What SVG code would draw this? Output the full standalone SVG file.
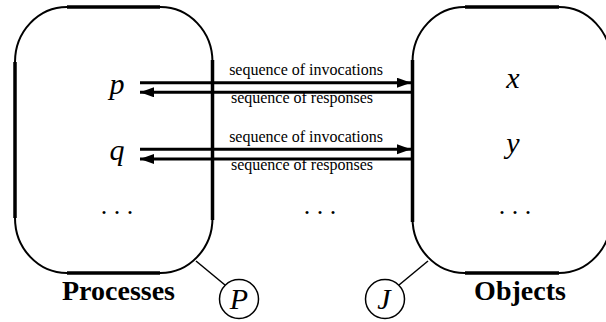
<svg xmlns="http://www.w3.org/2000/svg" width="606" height="322" viewBox="0 0 606 322">
  <style>
    .box { fill: none; stroke: #000; stroke-width: 2; }
    .edge { stroke: #000; stroke-width: 3.5; stroke-linecap: butt; }
    .flow { stroke: #000; stroke-width: 3; fill: none; }
    .thin { stroke: #000; stroke-width: 1.5; fill: none; }
    text { font-family: 'Liberation Serif', 'Times New Roman', Times, serif; fill: #000; text-anchor: middle; }
    .var { font-style: italic; font-size: 30px; }
    .lbl { font-size: 16px; }
    .title { font-weight: bold; font-size: 28px; }
    .dots { font-size: 26px; }
  </style>
  <defs>
    <marker id="head" markerUnits="userSpaceOnUse" markerWidth="16" markerHeight="12" refX="14" refY="5" orient="auto">
      <path d="M0,0 L14,5 L0,10 Z" fill="#000"/>
    </marker>
  </defs>

  <g id="processes">
    <rect class="box" x="15" y="7" width="197.5" height="266" rx="52" ry="55"/>
    <line class="edge" x1="67" y1="7" x2="160" y2="7"/>
    <line class="edge" x1="67" y1="273" x2="160" y2="273"/>
    <line class="edge" x1="15" y1="62" x2="15" y2="218"/>
    <line class="edge" x1="212.5" y1="60" x2="212.5" y2="220"/>
    <text class="var" x="117" y="94">p</text>
    <text class="var" x="117" y="160">q</text>
    <text class="dots" x="117" y="214">. . .</text>
    <text class="title" x="118.5" y="300">Processes</text>
  </g>

  <g id="objects">
    <rect class="box" x="412.5" y="7" width="198.5" height="266" rx="52" ry="55"/>
    <line class="edge" x1="465" y1="7" x2="559" y2="7"/>
    <line class="edge" x1="465" y1="273" x2="559" y2="273"/>
    <line class="edge" x1="412.5" y1="60" x2="412.5" y2="222"/>
    <text class="var" x="513" y="88">x</text>
    <text class="var" x="513" y="153">y</text>
    <text class="dots" x="515" y="214">. . .</text>
    <text class="title" x="520" y="300">Objects</text>
  </g>

  <g id="middle">
    <text class="dots" x="320" y="214">. . .</text>
  </g>

  <g id="proc-label">
    <circle class="thin" cx="239" cy="299" r="19.5"/>
    <text class="var" x="239" y="309">P</text>
  </g>

  <g id="obj-label">
    <circle class="thin" cx="385" cy="299" r="19.5"/>
    <text class="var" x="384" y="309">J</text>
  </g>

  <g id="connectors">
    <line class="flow" x1="140" y1="82.7" x2="411" y2="82.7" marker-end="url(#head)"/>
    <line class="flow" x1="411" y1="92.3" x2="140" y2="92.3" marker-end="url(#head)"/>
    <line class="flow" x1="140" y1="149.3" x2="411" y2="149.3" marker-end="url(#head)"/>
    <line class="flow" x1="411" y1="159" x2="140" y2="159" marker-end="url(#head)"/>
    <line class="thin" x1="196" y1="261" x2="225" y2="285"/>
    <line class="thin" x1="428" y1="261" x2="399" y2="285"/>
    <text class="lbl" x="306" y="75">sequence of invocations</text>
    <text class="lbl" x="302" y="103">sequence of responses</text>
    <text class="lbl" x="306" y="142">sequence of invocations</text>
    <text class="lbl" x="302" y="170">sequence of responses</text>
  </g>
</svg>
